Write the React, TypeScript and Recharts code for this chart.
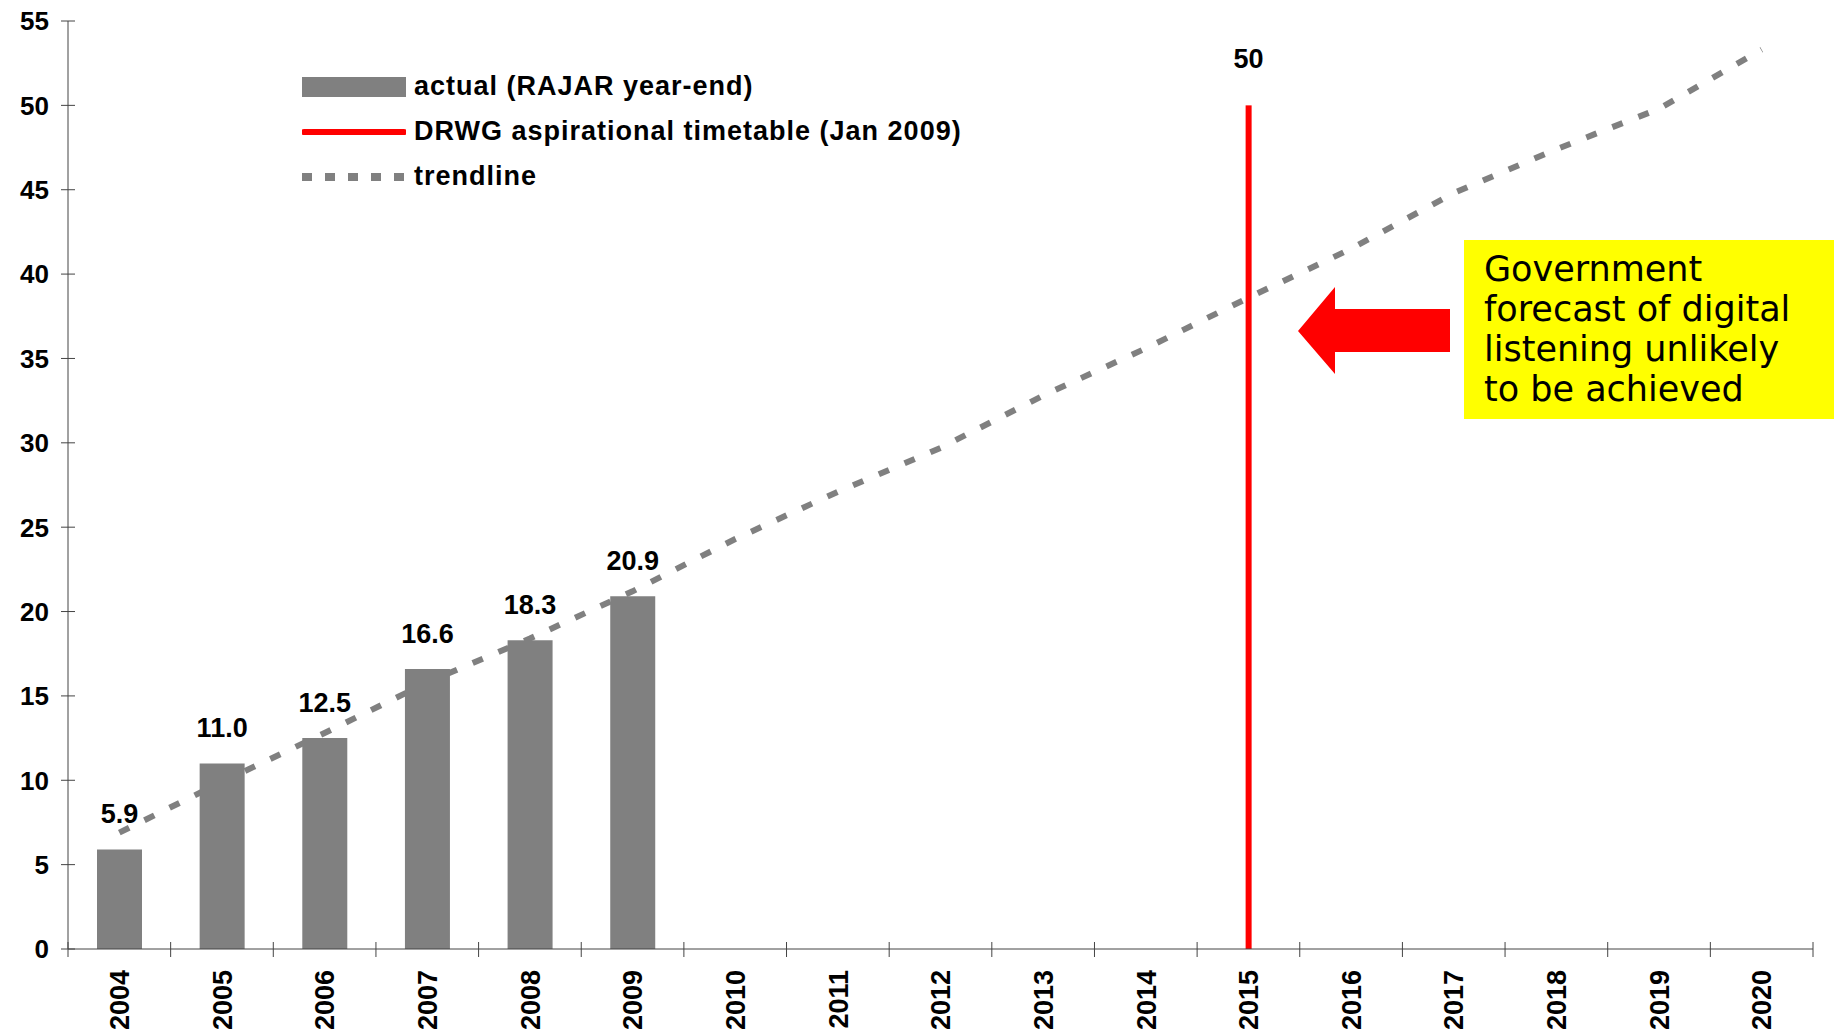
import React from 'react';
import {
  ComposedChart, Bar, Line, XAxis, YAxis, Legend, LabelList
} from 'recharts';

const years = ['2004', '2005', '2006', '2007', '2008', '2009', '2010', '2011', '2012',
  '2013', '2014', '2015', '2016', '2017', '2018', '2019', '2020'];
const actual = [5.9, 11.0, 12.5, 16.6, 18.3, 20.9, null, null, null, null, null, null, null, null, null, null, null];
const target = [null, null, null, null, null, null, null, null, null, null, null, 50, null, null, null, null, null];
const trend = [6.9, 9.9, 12.8, 15.8, 18.4, 21.2, 24.3, 27.1, 29.7, 32.8, 35.6, 38.6, 41.5, 44.8, 47.4, 49.8, 53.3];
const yTicks = [0, 5, 10, 15, 20, 25, 30, 35, 40, 45, 50, 55];

const data = years.map((year, i) => ({
  year, actual: actual[i], target: target[i], trend: trend[i],
}));

const FONT = '"Liberation Sans", Arial, sans-serif';
const GREY = '#808080';
const RED = '#FF0000';
const AXIS = '#444';

const W = 1834;
const H = 1035;
const PLOT_LEFT = 68;
const PLOT_RIGHT = 21;

const legendItems = [
  { label: 'actual (RAJAR year-end)', kind: 'bar' },
  { label: 'DRWG aspirational timetable (Jan 2009)', kind: 'line' },
  { label: 'trendline', kind: 'dash' },
];

const renderLegend = () => (
  <div style={{ fontFamily: FONT, fontWeight: 700, fontSize: 27, letterSpacing: 1, color: '#000' }}>
    {legendItems.map(item => (
      <div key={item.label} style={{ display: 'flex', alignItems: 'center', height: 45 }}>
        <svg width={104} height={20} style={{ marginRight: 8 }}>
          {item.kind === 'bar' && <rect x={0} y={0} width={104} height={20} fill={GREY} />}
          {item.kind === 'line' && <line x1={2} x2={102} y1={10} y2={10} stroke={RED} strokeWidth={6} strokeLinecap="round" />}
          {item.kind === 'dash' && <line x1={0} x2={104} y1={10} y2={10} stroke={GREY} strokeWidth={8} strokeDasharray="10 13" />}
        </svg>
        <span>{item.label}</span>
      </div>
    ))}
  </div>
);

// year labels, with Excel style ticks at the category boundaries
const YearTick = (props: any) => {
  const { x, y, payload, index } = props;
  const half = payload.offset || (W - PLOT_LEFT - PLOT_RIGHT) / years.length / 2;
  return (
    <g>
      <line x1={x - half} x2={x - half} y1={y - 7} y2={y + 8} stroke={AXIS} />
      {index === years.length - 1 && (
        <line x1={x + half} x2={x + half} y1={y - 7} y2={y + 8} stroke={AXIS} />
      )}
      <text x={x} y={y + 21} dy="0.36em" textAnchor="end" transform={`rotate(-90 ${x} ${y + 21})`}
        fontFamily={FONT} fontWeight={700} fontSize={27} fill="#000">
        {payload.value}
      </text>
    </g>
  );
};

// value labels plus a tick mark crossing the axis
const ValueTick = (props: any) => {
  const { x, y, payload } = props;
  return (
    <g>
      <line x1={x + 12} x2={x + 26} y1={y} y2={y} stroke={AXIS} />
      <text x={x} y={y} dy="0.36em" textAnchor="end"
        fontFamily={FONT} fontWeight={700} fontSize={26} fill="#000">
        {payload.value}
      </text>
    </g>
  );
};

const TargetShape = (props: any) => {
  const { x, y, width, height } = props;
  if (!height || height <= 0) return null;
  return <rect x={x + width / 2 - 3} y={y} width={6} height={height} fill={RED} />;
};

const valueLabel = (digits: number, offset: number) => (props: any) => {
  const { x, y, width, value } = props;
  if (value === null || value === undefined) return null;
  return (
    <text x={x + width / 2} y={y - offset} textAnchor="middle"
      fontFamily={FONT} fontWeight={700} fontSize={27} fill="#000">
      {Number(value).toFixed(digits)}
    </text>
  );
};

export default function App() {
  return (
    <div style={{ position: 'absolute', left: 0, top: 0, width: W, height: H, background: '#fff' }}>
      <ComposedChart width={W} height={H} data={data}
        margin={{ top: 21, right: PLOT_RIGHT, bottom: 0, left: 0 }}>
        <XAxis dataKey="year" height={86} tickLine={false} tickSize={0} tickMargin={0}
          axisLine={{ stroke: AXIS }} interval={0} tick={<YearTick />} />
        <YAxis width={PLOT_LEFT} domain={[0, 55]} ticks={yTicks} interval={0}
          axisLine={{ stroke: AXIS }} tickLine={false} tickSize={7} tickMargin={12}
          tick={<ValueTick />} />
        <Legend content={renderLegend} layout="vertical" align="center" verticalAlign="middle"
          wrapperStyle={{ left: 302, top: 64 }} />
        <Line dataKey="trend" type="linear" stroke={GREY} strokeWidth={6} strokeDasharray="11 17"
          dot={false} activeDot={false} isAnimationActive={false} legendType="none" />
        <Bar dataKey="actual" stackId="a" fill={GREY} barSize={45} isAnimationActive={false}>
          <LabelList dataKey="actual" content={valueLabel(1, 26)} />
        </Bar>
        <Bar dataKey="target" stackId="a" fill={RED} barSize={45} shape={<TargetShape />}
          isAnimationActive={false}>
          <LabelList dataKey="target" content={valueLabel(0, 37)} />
        </Bar>
      </ComposedChart>

      {/* callout: arrow and yellow note */}
      <svg width={W} height={H} style={{ position: 'absolute', left: 0, top: 0, pointerEvents: 'none' }}>
        <polygon points="1298,331 1335,287 1335,309 1450,309 1450,352 1335,352 1335,374" fill={RED} />
      </svg>
      <div style={{
        position: 'absolute', left: 1464, top: 240, width: 370, height: 179, background: '#FFFF00',
        boxSizing: 'border-box', padding: '9px 0 0 20px', fontFamily: '"DejaVu Sans", sans-serif',
        fontSize: 35, lineHeight: '40px', color: '#000',
      }}>
        Government<br />forecast of digital<br />listening unlikely<br />to be achieved
      </div>
    </div>
  );
}
